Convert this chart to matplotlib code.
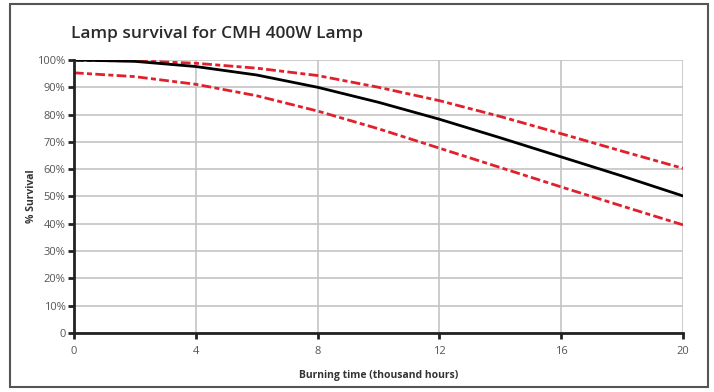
import matplotlib.pyplot as plt
from matplotlib.patches import Rectangle
import matplotlib.ticker as ticker

# burning time, thousand hours
hours = [0, 2, 4, 6, 8, 10, 12, 14, 16, 18, 20]
survival = [100, 99.5, 97.6, 94.5, 90.0, 84.5, 78.3, 71.5, 64.5, 57.5, 50.2]
upper = [99.8, 99.7, 98.8, 97.0, 94.3, 90.0, 85.1, 79.3, 73.0, 66.6, 60.3]
lower = [95.3, 93.9, 91.1, 86.9, 81.3, 74.8, 67.7, 60.6, 53.5, 46.5, 39.6]

x_ticks = [0, 4, 8, 12, 16, 20]
y_ticks = [0, 10, 20, 30, 40, 50, 60, 70, 80, 90, 100]
y_labels = ['0'] + ['%d%%' % v for v in y_ticks[1:]]

plt.rcParams['font.family'] = ['Open Sans', 'DejaVu Sans']

fig = plt.figure(figsize=(7.14, 3.92), dpi=100)
ax = fig.add_axes([0.1036, 0.1505, 0.853, 0.6965])

fig.patches.append(Rectangle((0.014, 0.012), 0.977, 0.978, transform=fig.transFigure,
                             fill=False, edgecolor='#555555', linewidth=1.5))

ax.plot(hours, upper, color='#e0202a', linewidth=2, dashes=(3.5, 1.2, 1.8, 1.2))
ax.plot(hours, lower, color='#e0202a', linewidth=2, dashes=(3.5, 1.2, 1.8, 1.2))
ax.plot(hours, survival, color='black', linewidth=2)

ax.set_xlim(0, 20)
ax.set_ylim(0, 100)
ax.set_xticks(x_ticks)
ax.set_yticks(y_ticks)
ax.set_yticklabels(y_labels)
ax.grid(True, color='#c4c4c4', linewidth=1.2)
ax.set_axisbelow(True)

for s in ['top', 'right']:
    ax.spines[s].set_visible(False)
for s in ['left', 'bottom']:
    ax.spines[s].set_linewidth(2)
    ax.spines[s].set_color('#222222')

ax.tick_params(axis='both', labelsize=8, labelcolor='#555555', color='#222222',
               width=2, length=4)
ax.tick_params(axis='y', pad=2)
ax.tick_params(axis='x', pad=5)

ax.set_xlabel('Burning time (thousand hours)', fontsize=7.5, fontweight='bold',
              color='#333333', labelpad=10)
ax.set_ylabel('% Survival', fontsize=7.5, fontweight='bold', color='#333333', labelpad=0)

fig.text(0.1, 0.912, 'Lamp survival for CMH 400W Lamp', fontsize=12.5,
         fontweight='semibold', color='#2a2a2a', va='center', ha='left')

fig.savefig('out.png', dpi=100)
